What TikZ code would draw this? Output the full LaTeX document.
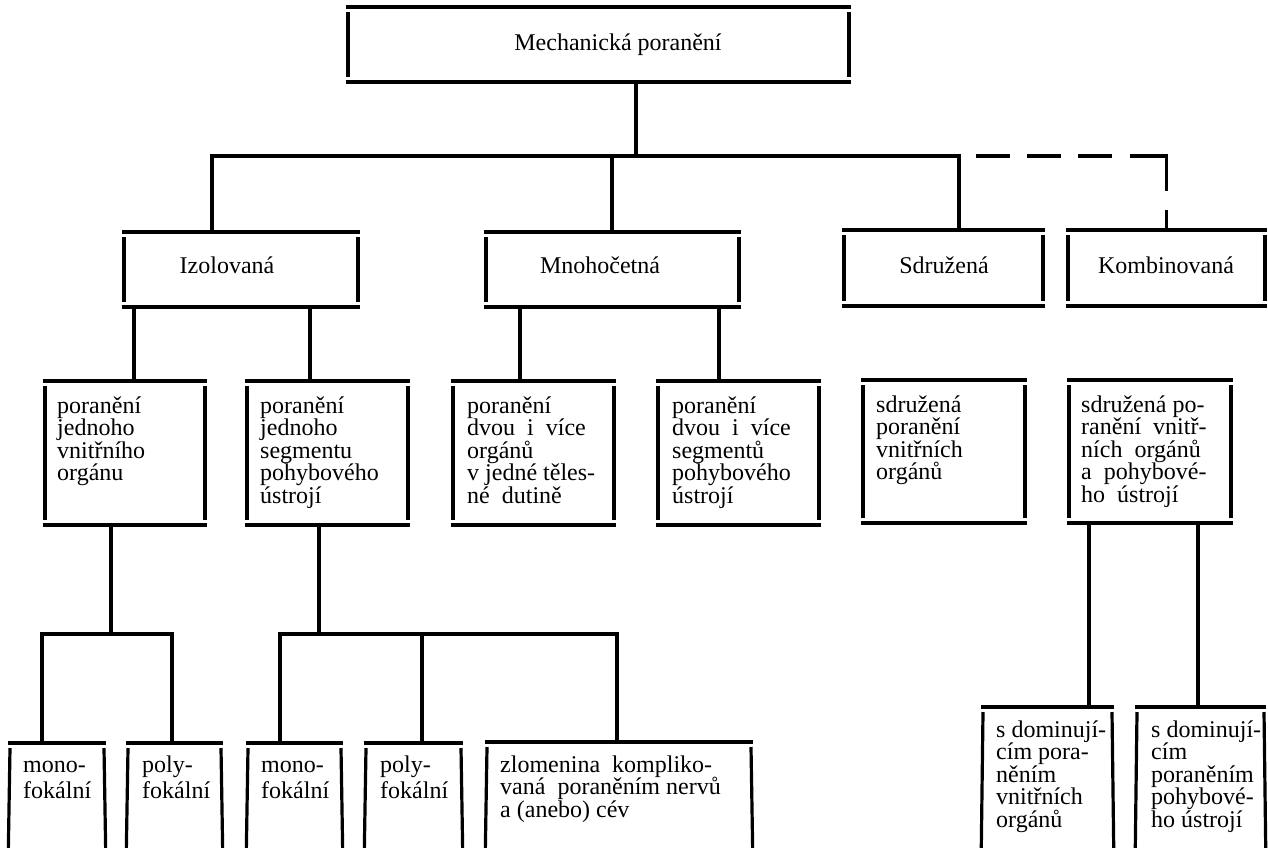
\documentclass[tikz,border=0pt]{standalone}
\usepackage{fontspec}
\setmainfont{Liberation Serif}
\usetikzlibrary{calc}
\newcommand{\tstrut}{\rule{0pt}{18pt}}
\tikzset{
  hl/.style={line width=3.1pt},
  vl/.style={line width=3.2pt},
  conn/.style={line width=3.1pt},
  dconn/.style={line width=3.1pt, dash pattern=on 34pt off 17pt on 34pt off 17pt on 34pt off 18pt on 71pt off 19pt on 40pt off 17pt, dash phase=284pt},
  boxarea/.style={inner sep=0pt, outer sep=0pt, draw=none},
  lbl/.style={inner sep=0pt, anchor=base, font=\fontsize{24}{22.5}\selectfont},
  blk/.style={inner sep=0pt, anchor=north west, align=left, font=\fontsize{24}{22.5}\selectfont},
  blkw/.style={blk, font=\fontsize{24}{26}\selectfont},
}
% closed box: name, x1, y1, x2, y2 (pixel coordinates, y downwards)
\newcommand{\obox}[5]{%
  \node[boxarea, minimum width={#4pt-#2pt}, minimum height={#5pt-#3pt}] (#1) at ({(#2+#4)/2},{(#3+#5)/2}) {};
  \draw[hl] (#1.north west) -- (#1.north east);
  \draw[hl] (#1.south west) -- (#1.south east);
  \draw[vl] ([shift={(2pt,-5pt)}]#1.north west) -- ([shift={(2pt,5pt)}]#1.south west);
  \draw[vl] ([shift={(-2pt,-5pt)}]#1.north east) -- ([shift={(-2pt,5pt)}]#1.south east);
}
% open box (runs off the bottom of the page): name, x1, y1, x2
\newcommand{\openbox}[4]{%
  \node[boxarea, minimum width={#4pt-#2pt}, minimum height={870pt-#3pt}] (#1) at ({(#2+#4)/2},{(#3+870)/2}) {};
  \draw[hl] (#1.north west) -- (#1.north east);
  \draw[vl] ([shift={(2pt,-5pt)}]#1.north west) -- (#1.south west);
  \draw[vl] ([shift={(-2pt,-5pt)}]#1.north east) -- (#1.south east);
}
\begin{document}
\begin{tikzpicture}[x=1pt,y=-1pt]
\useasboundingbox[fill=white] (0,0) rectangle (1268,847);

% ---- level 1
\obox{top}{346}{7}{851}{82}
\node[lbl] (ttop) at (618,50) {Mechanická poranění};

% ---- level 2
\obox{izol}{122}{232}{360}{307}
\node[lbl] (tizol) at (227,273) {Izolovaná};
\obox{mnoh}{484}{232}{741}{307}
\node[lbl] (tmnoh) at (600,273) {Mnohočetná};
\obox{sdruz}{842}{230}{1045}{306}
\node[lbl] (tsdruz) at (944,273) {Sdružená};
\obox{komb}{1066}{230}{1267}{306}
\node[lbl] (tkomb) at (1166,273) {Kombinovaná};

% ---- level 3
\obox{b31}{43}{381}{207}{525}
\node[blk] (t31) at (57,395) {\tstrut poranění\\jednoho\\vnitřního\\orgánu};
\obox{b32}{245}{381}{410}{525}
\node[blk] (t32) at (260,395) {\tstrut poranění\\jednoho\\segmentu\\pohybového\\ústrojí};
\obox{b33}{451}{381}{616}{525}
\node[blk] (t33) at (467,395) {\tstrut poranění\\dvou\ \ i\ \ více\\orgánů\\v jedné těles-\\né\ \ dutině};
\obox{b34}{656}{381}{821}{525}
\node[blk] (t34) at (672,395) {\tstrut poranění\\dvou\ \ i\ \ více\\segmentů\\pohybového\\ústrojí};
\obox{b35}{861}{380}{1027}{523}
\node[blk] (t35) at (876,394) {\tstrut sdružená\\poranění\\vnitřních\\orgánů};
\obox{b36}{1067}{380}{1233}{523}
\node[blk] (t36) at (1081,394) {\tstrut sdružená po-\\ranění\ \ vnitř-\\ních\ \ orgánů\\a\ \ pohybové-\\ho\ \ ústrojí};

% ---- level 4
\openbox{b41}{8}{743}{106}
\node[blkw] (t41) at (23,754) {\tstrut mono-\\fokální};
\openbox{b42}{126}{743}{223}
\node[blkw] (t42) at (142,754) {\tstrut poly-\\fokální};
\openbox{b43}{246}{743}{343}
\node[blkw] (t43) at (261,754) {\tstrut mono-\\fokální};
\openbox{b44}{364}{743}{463}
\node[blkw] (t44) at (380,754) {\tstrut poly-\\fokální};
\openbox{b45}{485}{742}{753}
\node[blk] (t45) at (500,754) {\tstrut zlomenina\ \ kompliko-\\vaná\ \ poraněním nervů\\a (anebo) cév};
\openbox{b46}{981}{707}{1114}
\node[blk] (t46) at (996,719) {\tstrut s dominují-\\cím pora-\\něním\\vnitřních\\orgánů};
\openbox{b47}{1135}{707}{1266}
\node[blk] (t47) at (1151,719) {\tstrut s dominují-\\cím\\poraněním\\pohybové-\\ho ústrojí};

% ---- junction coordinates
\coordinate (j0) at (636,156);
\coordinate (jI) at (212,156);
\coordinate (jM) at (612,156);
\coordinate (jS) at (959,156);
\coordinate (k1) at (134,0);
\coordinate (k2) at (310,0);
\coordinate (k3) at (520,0);
\coordinate (k4) at (719,0);
\coordinate (m1) at (111,634);
\coordinate (n1) at (42,634);
\coordinate (n2) at (172,634);
\coordinate (m2) at (319,634);
\coordinate (n3) at (280,634);
\coordinate (n4) at (422,634);
\coordinate (n5) at (617,634);
\coordinate (p1) at (1089,0);
\coordinate (p2) at (1198,0);

% ---- connectors
\draw[conn] (top.south -| j0) -- (j0);
\draw[conn] (izol.north -| jI) -- (jI) -- (jS) -- (sdruz.north -| jS);
\draw[conn] (mnoh.north -| jM) -- (jM);
\draw[dconn] (jS) -- (jS -| komb.north) -- (komb.north);

\draw[conn] (izol.south -| k1) -- (b31.north -| k1);
\draw[conn] (izol.south -| k2) -- (b32.north -| k2);
\draw[conn] (mnoh.south -| k3) -- (b33.north -| k3);
\draw[conn] (mnoh.south -| k4) -- (b34.north -| k4);

\draw[conn] (b31.south -| m1) -- (m1);
\draw[conn] (b41.north -| n1) -- (n1) -- (n2) -- (b42.north -| n2);
\draw[conn] (b32.south -| m2) -- (m2);
\draw[conn] (b43.north -| n3) -- (n3) -- (n5) -- (b45.north -| n5);
\draw[conn] (n4) -- (b44.north -| n4);

\draw[conn] (b36.south -| p1) -- (b46.north -| p1);
\draw[conn] (b36.south -| p2) -- (b47.north -| p2);
\end{tikzpicture}
\end{document}
